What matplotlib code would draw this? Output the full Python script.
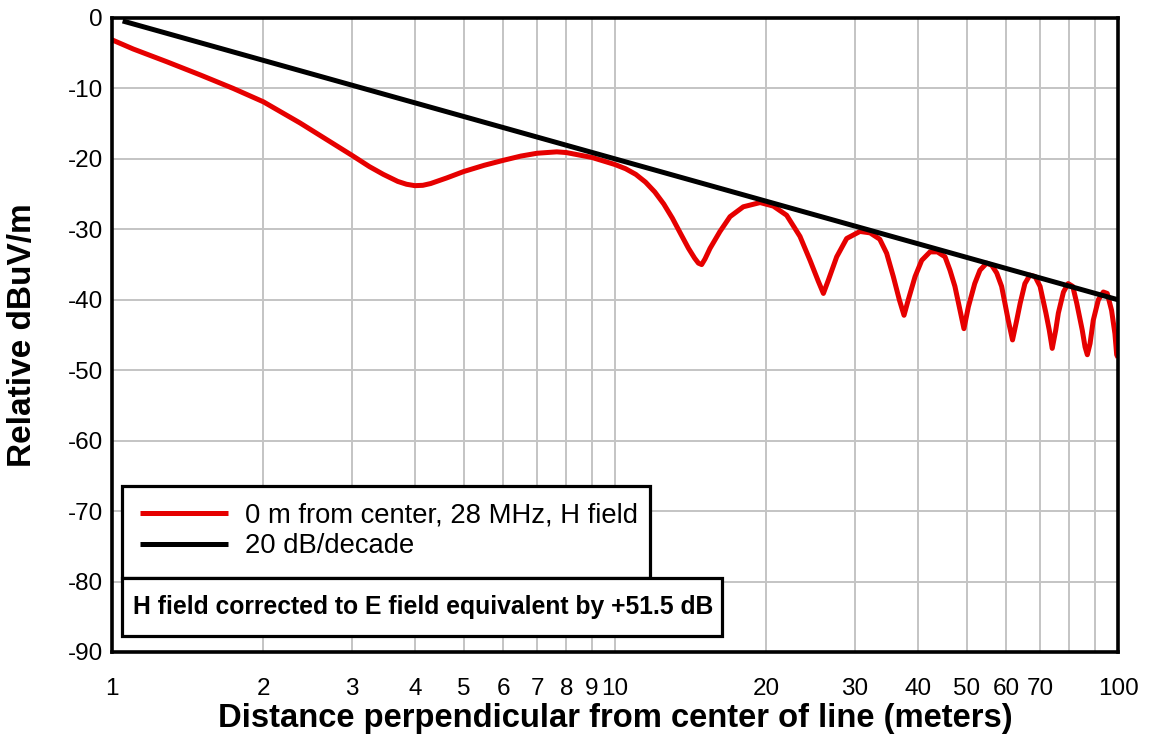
import matplotlib
matplotlib.use("Agg")
import matplotlib.pyplot as plt
from matplotlib.patches import Rectangle
from matplotlib.ticker import FixedLocator, FixedFormatter, NullLocator

plt.rcParams['font.family'] = ['Liberation Sans', 'DejaVu Sans']

# ---- data ----
h_dist = [1.0, 1.102, 1.284, 1.5, 1.742, 2.0, 2.365, 2.65, 3.0, 3.25, 3.463, 3.7, 3.85,
          4.0, 4.15, 4.3, 4.63, 5.0, 5.5, 6.0, 6.5, 7.0, 7.66, 8.0, 9.0, 10.0,
          10.5, 11.0, 11.5, 12.0, 12.5, 13.0, 13.5, 14.0, 14.4, 14.65, 14.87, 15.1, 15.45, 16.17,
          16.93, 17.99, 19.43, 20.64, 21.94, 23.32, 24.42, 25.37, 25.96, 26.56, 27.59,
          28.88, 30.69, 32.14, 33.6, 34.68, 35.75, 36.75, 37.55, 38.29, 39.5, 40.72,
          42.3, 43.74, 45.3, 46.34, 47.4, 48.36, 49.4, 50.41, 51.9, 53.16, 54.8, 56.1,
          57.4, 58.7, 59.6, 60.5, 61.7, 62.9, 63.9, 65.3, 66.8, 68.4, 70.0, 71.9, 73.0,
          74.0, 75.2, 76.1, 77.9, 79.6, 81.3, 82.8, 84.9, 86.0, 86.9, 88.0, 89.3, 91.4,
          93.5, 95.2, 97.1, 98.6, 99.4, 100.0]
h_db = [-3.1, -4.4, -6.2, -8.1, -10.0, -11.9, -14.9, -17.1, -19.5, -21.1, -22.2, -23.2, -23.6,
        -23.8, -23.75, -23.5, -22.7, -21.8, -20.9, -20.2, -19.6, -19.2, -19.0, -19.1, -19.8, -20.8,
        -21.4, -22.2, -23.3, -24.7, -26.4, -28.4, -30.6, -32.7, -34.1, -34.8, -35.0, -34.2, -32.7, -30.3,
        -28.2, -26.8, -26.2, -26.7, -28.0, -31.0, -34.4, -37.4, -39.1, -37.2, -33.9,
        -31.3, -30.3, -30.5, -31.4, -33.4, -36.7, -40.0, -42.2, -40.0, -36.7, -34.4,
        -33.2, -33.2, -33.9, -35.8, -38.1, -41.0, -44.1, -41.0, -37.7, -35.8, -34.8, -35.1,
        -36.2, -38.1, -40.5, -42.9, -45.7, -42.9, -40.5, -37.7, -36.5, -36.7, -38.1, -41.9, -44.3,
        -46.9, -44.3, -41.9, -38.9, -37.7, -38.1, -40.5, -44.3, -46.7, -47.8, -46.2, -42.9, -40.0,
        -38.9, -39.1, -41.5, -44.8, -47.8, -48.2]

ref_dist = [1.05, 100.0]
ref_db = [-0.42, -40.0]

series_labels = ["0 m from center, 28 MHz, H field", "20 dB/decade"]
note_text = "H field corrected to E field equivalent by +51.5 dB"

x_grid = [1, 2, 3, 4, 5, 6, 7, 8, 9, 10, 20, 30, 40, 50, 60, 70, 80, 90, 100]
x_labels = ["1", "2", "3", "4", "5", "6", "7", "8", "9", "10", "20", "30", "40",
            "50", "60", "70", "", "", "100"]
y_ticks = [0, -10, -20, -30, -40, -50, -60, -70, -80, -90]

# ---- figure ----
W, H = 1149, 738
L, R, T, B = 112, 1118, 18, 652
fig = plt.figure(figsize=(W/100, H/100), dpi=100)
ax = fig.add_axes([L/W, 1 - B/H, (R-L)/W, (B-T)/H])

def ax_xy(px, py):
    return (px - L) / (R - L), (B - py) / (B - T)

ax.plot(h_dist, h_db, color='#e60000', lw=3.6, solid_joinstyle='round',
        solid_capstyle='butt', label=series_labels[0], zorder=3)
ax.plot(ref_dist, ref_db, color='black', lw=3.6, solid_capstyle='butt',
        label=series_labels[1], zorder=4)

ax.set_xscale('log')
ax.set_xlim(1, 100)
ax.set_ylim(-90, 0)
ax.xaxis.set_major_locator(FixedLocator(x_grid))
ax.xaxis.set_major_formatter(FixedFormatter(x_labels))
ax.xaxis.set_minor_locator(NullLocator())
ax.set_yticks(y_ticks)
ax.set_yticklabels([str(v) for v in y_ticks])

ax.grid(True, color='#c4c4c4', lw=1.4)
ax.set_axisbelow(True)
ax.tick_params(axis='both', length=0, labelsize=17.5)
ax.tick_params(axis='x', pad=19)
ax.tick_params(axis='y', pad=6.5)
for s in ax.spines.values():
    s.set_linewidth(2.6)
    s.set_color('black')
    s.set_zorder(5)

ax.set_xlabel("Distance perpendicular from center of line (meters)",
              fontsize=23.6, fontweight='bold', va='center')
ax.xaxis.set_label_coords(0.5, ax_xy(0, 718)[1])
ax.set_ylabel("Relative dBuV/m", fontsize=24, fontweight='bold', va='center')
ax.yaxis.set_label_coords(ax_xy(23, 0)[0], 0.5)

# legend frame and note box
x0, y0 = ax_xy(122, 578)
x1, y1 = ax_xy(650, 486)
ax.add_patch(Rectangle((x0, y0), x1 - x0, y1 - y0, transform=ax.transAxes,
                       fc='white', ec='black', lw=2.3, zorder=6, clip_on=False))
leg = ax.legend(loc='center left', bbox_to_anchor=ax_xy(140, 531),
                fontsize=19.7, frameon=False, handlelength=3.2, handletextpad=0.62,
                borderpad=0, labelspacing=0.16, borderaxespad=0)
leg.set_zorder(7)

nx0, ny0 = ax_xy(122, 636)
nx1, ny1 = ax_xy(722, 578)
ax.add_patch(Rectangle((nx0, ny0), nx1 - nx0, ny1 - ny0, transform=ax.transAxes,
                       fc='white', ec='black', lw=2.3, zorder=8, clip_on=False))
cx, cy = ax_xy(423, 607)
ax.text(cx, cy, note_text, transform=ax.transAxes, fontsize=17.8,
        fontweight='bold', va='center', ha='center', zorder=9)

fig.savefig("out.png", dpi=100)
